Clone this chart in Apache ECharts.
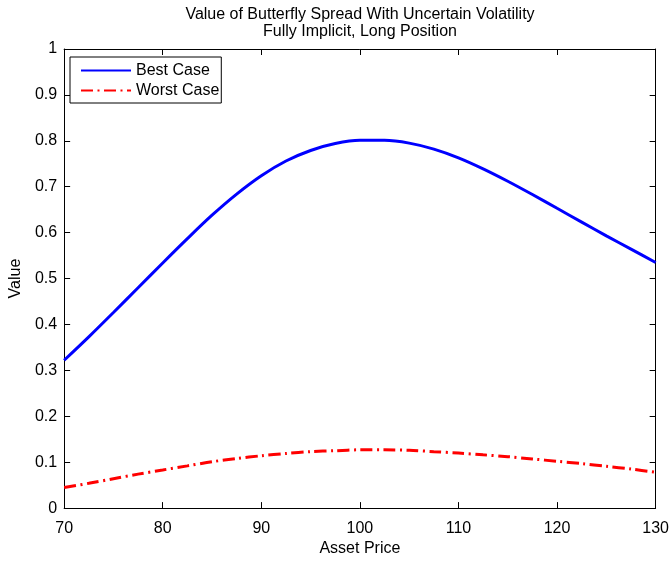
<!DOCTYPE html>
<html>
<head>
<meta charset="utf-8">
<script src="https://cdn.jsdelivr.net/npm/echarts@6/dist/echarts.min.js"></script>
<style>html,body{margin:0;padding:0;background:#fff}#c{width:672px;height:562px}</style>
</head>
<body>
<div id="c"></div>
<script>
var assetPrice = [70, 72.5, 75, 77.5, 80, 82.5, 85, 87.5, 90, 92.5, 95, 97.5, 100, 102.5, 105, 107.5, 110, 112.5, 115, 117.5, 120, 122.5, 125, 127.5, 130];
var bestCase = [0.322, 0.373, 0.426, 0.480, 0.534, 0.587, 0.638, 0.684, 0.724, 0.756, 0.779, 0.794, 0.801, 0.801, 0.795, 0.782, 0.763, 0.739, 0.712, 0.683, 0.653, 0.623, 0.593, 0.564, 0.535];
var worstCase = [0.045, 0.054, 0.064, 0.074, 0.083, 0.092, 0.101, 0.108, 0.114, 0.119, 0.123, 0.125, 0.127, 0.127, 0.126, 0.123, 0.120, 0.116, 0.112, 0.107, 0.102, 0.097, 0.091, 0.085, 0.078];
var seriesNames = ['Best Case', 'Worst Case'];
var titleLines = ['Value of Butterfly Spread With Uncertain Volatility', 'Fully Implicit, Long Position'];
var xLabel = 'Asset Price';
var yLabel = 'Value';

function pairs(xs, ys) { return xs.map(function (x, i) { return [x, ys[i]]; }); }

var FONT = 'Liberation Sans, Arial, Helvetica, sans-serif';
var FS = 16;
var chart = echarts.init(document.getElementById('c'), null, { renderer: 'canvas' });
var tickCommon = { show: true, inside: true, length: 6, lineStyle: { color: '#000', width: 1 } };
chart.setOption({
  animation: false,
  backgroundColor: '#fff',
  textStyle: { fontFamily: FONT },
  title: {
    text: titleLines.join('\n'),
    left: 360,
    top: 6,
    padding: 0,
    textAlign: 'center',
    textStyle: { fontFamily: FONT, fontSize: FS, fontWeight: 'normal', color: '#000', lineHeight: 17 }
  },
  grid: { left: 62, right: 13, top: 49, bottom: 47, containLabel: false },
  legend: {
    orient: 'vertical',
    left: 70,
    top: 57,
    itemWidth: 50,
    itemHeight: 12,
    itemGap: 3,
    padding: [5, 2, 4, 10],
    borderColor: '#000',
    borderWidth: 1,
    backgroundColor: '#fff',
    itemStyle: { opacity: 0 },
    textStyle: { fontFamily: FONT, fontSize: FS, color: '#000', lineHeight: 17 },
    data: seriesNames
  },
  xAxis: [{
    type: 'value', min: 70, max: 130, interval: 10,
    name: xLabel, nameLocation: 'middle', nameGap: 32,
    nameTextStyle: { fontFamily: FONT, fontSize: FS, color: '#000' },
    axisLine: { show: true, onZero: false, lineStyle: { color: '#000', width: 1 } },
    axisTick: tickCommon,
    axisLabel: { fontFamily: FONT, fontSize: FS, color: '#000', margin: 12 },
    splitLine: { show: false }
  }, {
    type: 'value', min: 70, max: 130, interval: 10, position: 'top',
    axisLine: { show: true, onZero: false, lineStyle: { color: '#000', width: 1 } },
    axisTick: tickCommon,
    axisLabel: { show: false },
    splitLine: { show: false }
  }],
  yAxis: [{
    type: 'value', min: 0, max: 1, interval: 0.1,
    name: yLabel, nameLocation: 'middle', nameGap: 31, nameRotate: 90,
    nameTextStyle: { fontFamily: FONT, fontSize: FS, color: '#000' },
    axisLine: { show: true, onZero: false, lineStyle: { color: '#000', width: 1 } },
    axisTick: tickCommon,
    axisLabel: { fontFamily: FONT, fontSize: FS, color: '#000', margin: 7 },
    splitLine: { show: false }
  }, {
    type: 'value', min: 0, max: 1, interval: 0.1, position: 'right',
    axisLine: { show: true, onZero: false, lineStyle: { color: '#000', width: 1 } },
    axisTick: tickCommon,
    axisLabel: { show: false },
    splitLine: { show: false }
  }],
  series: [{
    name: seriesNames[0], type: 'line', smooth: 0.3, symbol: 'none',
    xAxisIndex: 0, yAxisIndex: 0,
    data: pairs(assetPrice, bestCase),
    lineStyle: { color: '#0000ff', width: 3 },
    itemStyle: { color: '#0000ff' }
  }, {
    name: seriesNames[1], type: 'line', smooth: 0.3, symbol: 'none',
    xAxisIndex: 0, yAxisIndex: 0,
    data: pairs(assetPrice, worstCase),
    lineStyle: { color: '#ff0000', width: 3, type: [12, 4.5, 2, 4.5], cap: 'butt' },
    itemStyle: { color: '#ff0000' }
  }]
});
</script>
</body>
</html>
